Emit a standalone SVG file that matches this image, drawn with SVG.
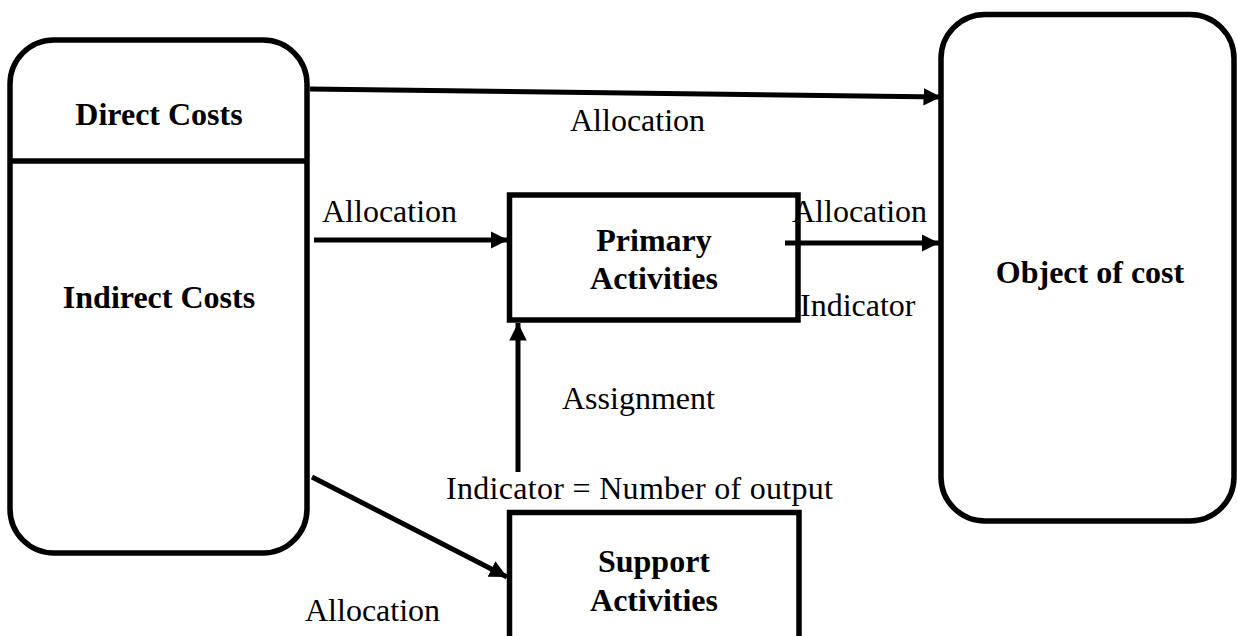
<svg xmlns="http://www.w3.org/2000/svg" width="1237" height="636" viewBox="0 0 1237 636">
  <style>
    .box { fill: #fff; stroke: #000; stroke-width: 5.5; }
    .line { fill: none; stroke: #000; stroke-width: 5.5; }
    .conn { fill: none; stroke: #000; stroke-width: 5; }
    .title { font-family: "Liberation Serif", "Times New Roman", serif; font-size: 32px; font-weight: bold; fill: #000; text-anchor: middle; }
    .label { font-family: "Liberation Serif", "Times New Roman", serif; font-size: 32px; fill: #000; }
  </style>
  <defs>
    <marker id="arrow" viewBox="0 0 10 10" refX="10" refY="5" markerWidth="3.5" markerHeight="3.5" markerUnits="strokeWidth" orient="auto">
      <path d="M0,0 L10,5 L0,10 z" fill="#000"/>
    </marker>
  </defs>

  <rect width="1237" height="636" fill="#fff"/>

  <!-- Cost pool: direct and indirect costs -->
  <g id="costs">
    <rect class="box" x="10" y="40" width="297" height="513" rx="44" ry="44"/>
    <line class="line" x1="10" y1="161" x2="307" y2="161"/>
    <text class="title" x="159" y="125">Direct Costs</text>
    <text class="title" x="159" y="308">Indirect Costs</text>
  </g>

  <!-- Cost object -->
  <g id="object-of-cost">
    <rect class="box" x="941" y="14.5" width="293" height="506.5" rx="44" ry="44"/>
    <text class="title" x="1090" y="283">Object of cost</text>
  </g>

  <!-- Primary activities -->
  <g id="primary-activities">
    <rect class="box" x="509.5" y="195" width="288.5" height="125"/>
    <text class="title" x="654" y="251">Primary</text>
    <text class="title" x="654" y="289">Activities</text>
  </g>

  <!-- Support activities (runs past the bottom edge) -->
  <g id="support-activities">
    <rect class="box" x="509.5" y="512.5" width="289.5" height="140"/>
    <text class="title" x="654" y="572">Support</text>
    <text class="title" x="654" y="611">Activities</text>
  </g>

  <!-- Connectors -->
  <g id="connectors">
    <line class="conn" x1="310" y1="89" x2="941" y2="97" marker-end="url(#arrow)"/>
    <line class="conn" x1="314" y1="240" x2="508" y2="240" marker-end="url(#arrow)"/>
    <line class="conn" x1="785" y1="243" x2="939" y2="243" marker-end="url(#arrow)"/>
    <line class="conn" x1="518" y1="472" x2="518" y2="323" marker-end="url(#arrow)"/>
    <line class="conn" x1="312" y1="477" x2="507" y2="577" marker-end="url(#arrow)"/>
  </g>

  <!-- Connector labels -->
  <g id="labels">
    <text class="label" x="570" y="131">Allocation</text>
    <text class="label" x="322" y="222">Allocation</text>
    <text class="label" x="792" y="222">Allocation</text>
    <text class="label" x="800" y="316">Indicator</text>
    <text class="label" x="562" y="409">Assignment</text>
    <text class="label" x="446" y="499" textLength="387">Indicator = Number of output</text>
    <text class="label" x="305" y="621">Allocation</text>
  </g>
</svg>
